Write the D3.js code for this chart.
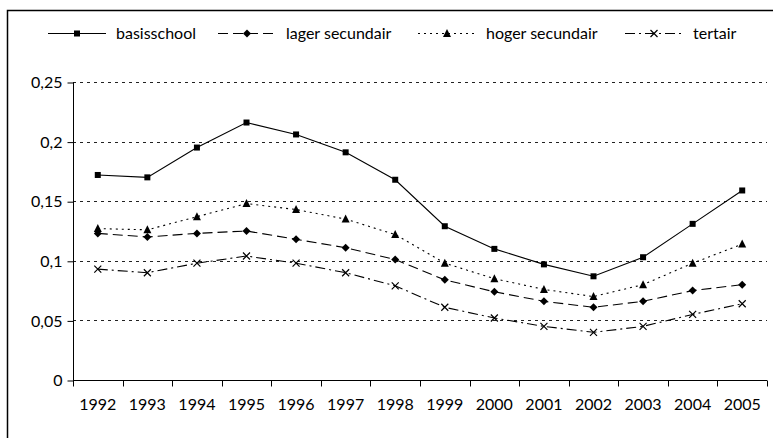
<!doctype html>
<html>
<head>
<meta charset="utf-8">
<script src="https://d3js.org/d3.v7.min.js"></script>
<style>
  body { margin: 0; background: #fff; }
  text { font-family: Lato, "Open Sans", sans-serif; fill: #000; }
</style>
</head>
<body>
<script>
// data
var years = ["1992", "1993", "1994", "1995", "1996", "1997", "1998", "1999", "2000", "2001", "2002", "2003", "2004", "2005"];
var basisschool = [0.172, 0.170, 0.195, 0.216, 0.206, 0.191, 0.168, 0.129, 0.110, 0.097, 0.087, 0.103, 0.131, 0.159];
var lagerSecundair = [0.123, 0.120, 0.123, 0.125, 0.118, 0.111, 0.101, 0.084, 0.074, 0.066, 0.061, 0.066, 0.075, 0.080];
var hogerSecundair = [0.127, 0.126, 0.137, 0.148, 0.143, 0.135, 0.122, 0.098, 0.085, 0.076, 0.070, 0.080, 0.098, 0.114];
var tertair = [0.093, 0.090, 0.098, 0.104, 0.098, 0.090, 0.079, 0.061, 0.052, 0.045, 0.040, 0.045, 0.055, 0.064];
var yTicks = [0, 0.05, 0.1, 0.15, 0.2, 0.25];

var series = [
  {name: "basisschool", values: basisschool, dash: null, marker: "square"},
  {name: "lager secundair", values: lagerSecundair, dash: "10,5", marker: "diamond"},
  {name: "hoger secundair", values: hogerSecundair, dash: "2,4", marker: "triangle"},
  {name: "tertair", values: tertair, dash: "10,4,2,4", marker: "cross"}
];

var W = 773, H = 438;
var plotLeft = 73, plotRight = 767, plotTop = 82, plotBottom = 380;

var svg = d3.select("body").append("svg")
    .attr("width", W)
    .attr("height", H);

// outer frame (right and bottom edges fall outside the picture)
svg.append("rect")
   .attr("x", 7.5).attr("y", 10.5)
   .attr("width", 800).attr("height", 500)
   .attr("fill", "none").attr("stroke", "#000").attr("stroke-width", 1.5);

var x = d3.scaleBand().domain(years).range([plotLeft, plotRight]);
var y = d3.scaleLinear().domain([0, 0.25]).range([plotBottom, plotTop]);

var fmt = function(d) { return d3.format("~g")(d).replace(".", ","); };

// grid
svg.append("g").selectAll("line")
   .data(yTicks.filter(function(d) { return d > 0; }))
   .enter().append("line")
   .attr("x1", plotLeft).attr("x2", plotRight)
   .attr("y1", function(d) { return Math.round(y(d)) + 0.5; })
   .attr("y2", function(d) { return Math.round(y(d)) + 0.5; })
   .attr("stroke", "#222").attr("stroke-width", 1)
   .attr("stroke-dasharray", "3,4");

// y axis
var gy = svg.append("g")
   .attr("transform", "translate(" + (plotLeft + 0.5) + ",0.5)")
   .call(d3.axisLeft(y).tickValues(yTicks).tickFormat(fmt).tickSize(6).tickPadding(5));
gy.select(".domain").attr("d", "M0," + y(0.25) + "V" + y(0));
gy.selectAll("text").attr("font-size", "16px").attr("font-family", "Lato, sans-serif");

// x axis: ticks on band edges
var gx = svg.append("g").attr("transform", "translate(0," + (plotBottom + 0.5) + ")");
gx.append("line").attr("x1", plotLeft).attr("x2", plotRight).attr("stroke", "#000");
var edges = years.map(function(d) { return x(d); }).concat([plotRight]);
gx.selectAll(".tk").data(edges).enter().append("line")
  .attr("class", "tk")
  .attr("x1", function(d) { return Math.round(d) + 0.5; })
  .attr("x2", function(d) { return Math.round(d) + 0.5; })
  .attr("y1", 0).attr("y2", 6).attr("stroke", "#000");
gx.selectAll(".lbl").data(years).enter().append("text")
  .attr("class", "lbl")
  .attr("x", function(d) { return x(d) + x.bandwidth() / 2; })
  .attr("y", 29)
  .attr("text-anchor", "middle")
  .attr("font-size", "16px")
  .text(function(d) { return d; });

function drawMarker(g, type) {
  if (type === "square") {
    g.append("rect").attr("x", -3).attr("y", -3).attr("width", 6).attr("height", 6).attr("fill", "#000");
  } else if (type === "diamond") {
    g.append("path").attr("d", "M0,-4L4,0L0,4L-4,0Z").attr("fill", "#000");
  } else if (type === "triangle") {
    g.append("path").attr("d", "M0,-4.5L4,3.5L-4,3.5Z").attr("fill", "#000");
  } else {
    g.append("path").attr("d", "M-3.5,-3.5L3.5,3.5M-3.5,3.5L3.5,-3.5")
     .attr("stroke", "#000").attr("stroke-width", 1.2).attr("fill", "none");
  }
}

var line = d3.line()
  .x(function(d, i) { return x(years[i]) + x.bandwidth() / 2; })
  .y(function(d) { return y(d); });

series.forEach(function(s) {
  svg.append("path")
     .datum(s.values)
     .attr("d", line)
     .attr("fill", "none")
     .attr("stroke", "#000")
     .attr("stroke-width", 1.1)
     .attr("stroke-dasharray", s.dash);
  svg.append("g").selectAll("g")
     .data(s.values)
     .enter().append("g")
     .attr("transform", function(d, i) {
       return "translate(" + (x(years[i]) + x.bandwidth() / 2) + "," + y(d) + ")";
     })
     .each(function() { drawMarker(d3.select(this), s.marker); });
});

// legend
var legendX = [48, 218, 418, 625];
var legendY = 33.5;
series.forEach(function(s, i) {
  var g = svg.append("g").attr("transform", "translate(" + legendX[i] + "," + legendY + ")");
  g.append("line").attr("x1", 0).attr("x2", 58)
   .attr("stroke", "#000").attr("stroke-width", 1.1)
   .attr("stroke-dasharray", s.dash);
  drawMarker(g.append("g").attr("transform", "translate(29,0)"), s.marker);
  g.append("text").attr("x", 68).attr("y", 5.5).attr("font-size", "16px").text(s.name);
});
</script>
</body>
</html>
